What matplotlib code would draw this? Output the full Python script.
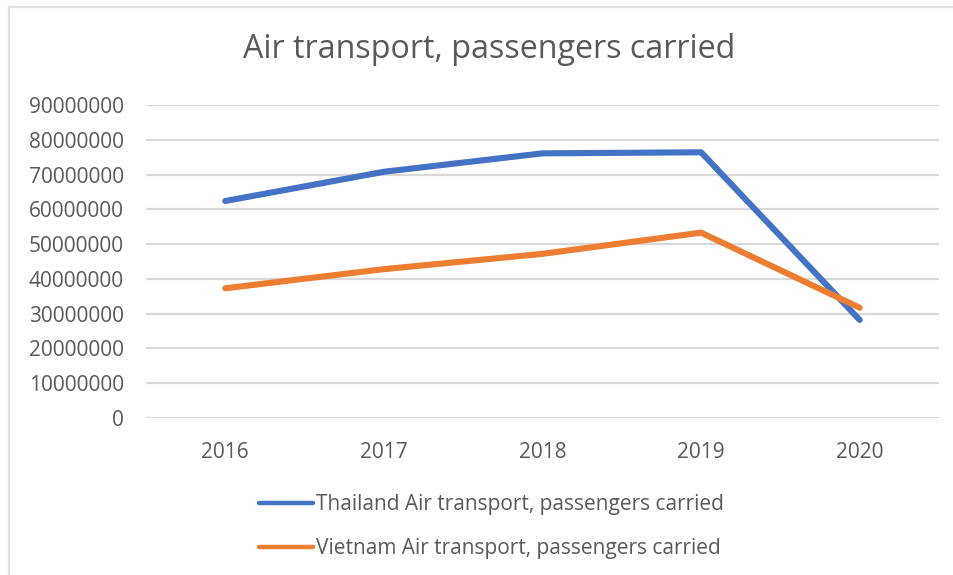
import matplotlib
matplotlib.use("Agg")
import matplotlib.pyplot as plt
from matplotlib.lines import Line2D

years = ["2016", "2017", "2018", "2019", "2020"]
thailand = [62.4e6, 70.8e6, 76.1e6, 76.4e6, 28.2e6]
vietnam = [37.3e6, 42.8e6, 47.2e6, 53.3e6, 31.7e6]
yticks = [0, 10000000, 20000000, 30000000, 40000000, 50000000,
          60000000, 70000000, 80000000, 90000000]

plt.rcParams['font.family'] = ['Open Sans', 'DejaVu Sans']
TXT = '#595959'
GRID = '#d9d9d9'

W, H = 954, 575
fig = plt.figure(figsize=(W / 100, H / 100), dpi=100)
fig.patch.set_facecolor('white')

# chart border (left & top visible)
fig.add_artist(Line2D([9 / W, 9 / W], [0, 1 - 7 / H], color='#e2e2e2', lw=1.6,
                      transform=fig.transFigure))
fig.add_artist(Line2D([9 / W, 1], [1 - 7 / H, 1 - 7 / H], color='#e2e2e2', lw=1.6,
                      transform=fig.transFigure))

left, right = 146 / W, 939 / W
bottom, top = 1 - 418 / H, 1 - 105 / H
ax = fig.add_axes([left, bottom, right - left, top - bottom])

x = list(range(len(years)))
ax.plot(x, thailand, color='#4472C4', lw=4.4, solid_capstyle='round',
        solid_joinstyle='round', label='Thailand Air transport, passengers carried', zorder=3)
ax.plot(x, vietnam, color='#ED7D31', lw=4.4, solid_capstyle='round',
        solid_joinstyle='round', label='Vietnam Air transport, passengers carried', zorder=3)

ax.set_xlim(-0.5, len(years) - 0.5)
ax.set_ylim(0, 90000000)
ax.set_yticks(yticks)
ax.set_yticklabels([str(v) for v in yticks])
ax.set_xticks(x)
ax.set_xticklabels(years)
ax.yaxis.grid(True, color=GRID, lw=1.6)
ax.set_axisbelow(True)
for s in ax.spines.values():
    s.set_visible(False)
ax.tick_params(axis='both', length=0, labelsize=15, labelcolor=TXT)
ax.tick_params(axis='y', pad=16)
ax.tick_params(axis='x', pad=17)

fig.text(489 / W, 1 - 49 / H, 'Air transport, passengers carried', ha='center', va='center',
         fontsize=23.2, color=TXT)

leg = fig.legend(loc='center left', bbox_to_anchor=(259 / W, 1 - 526.5 / H), frameon=False,
                 fontsize=15, handlelength=2.6, handletextpad=0.15, labelspacing=1.1,
                 borderpad=0, borderaxespad=0, ncol=1)
for t in leg.get_texts():
    t.set_color(TXT)
for h in leg.legend_handles:
    h.set_linewidth(3.2)

fig.savefig('out.png', dpi=100, facecolor='white')
